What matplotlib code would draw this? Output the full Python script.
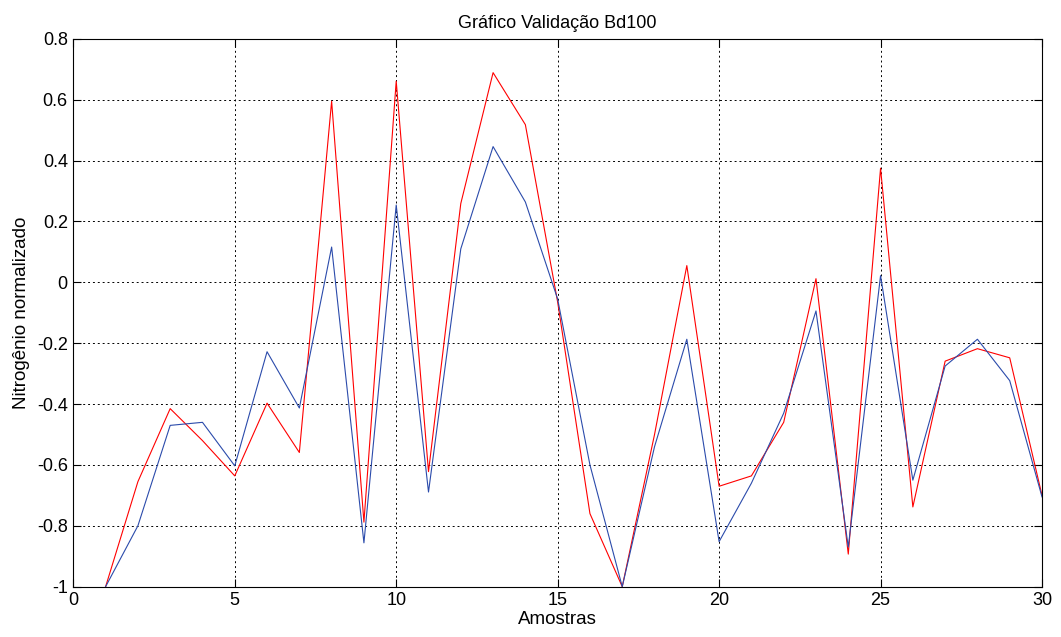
import numpy as np
import matplotlib
matplotlib.use('Agg')
import matplotlib.pyplot as plt

plt.rcParams['font.family'] = ['Liberation Sans', 'DejaVu Sans']

amostras = np.arange(1, 31)
# curva vermelha (real) e azul (rede)
real = [-1.0, -0.655, -0.415, -0.52, -0.636, -0.397, -0.559, 0.595, -0.788, 0.661,
        -0.622, 0.259, 0.689, 0.518, -0.065, -0.76, -1.0, -0.50, 0.055, -0.67,
        -0.636, -0.46, 0.012, -0.893, 0.375, -0.738, -0.259, -0.218, -0.248, -0.70]
rede = [-1.0, -0.80, -0.47, -0.46, -0.603, -0.228, -0.413, 0.116, -0.856, 0.254,
        -0.689, 0.110, 0.446, 0.264, -0.055, -0.60, -1.0, -0.54, -0.187, -0.852,
        -0.66, -0.43, -0.094, -0.87, 0.022, -0.65, -0.275, -0.187, -0.323, -0.705]

fig = plt.figure(figsize=(10.61, 6.37), dpi=100)
ax = fig.add_axes([0.0691, 0.079, 0.913, 0.86])

ax.plot(amostras, real, color='#ff0000', lw=0.8)
ax.plot(amostras, rede, color='#2b4bab', lw=0.8)

ax.set_xlim(0, 30)
ax.set_ylim(-1, 0.8)
ax.set_xticks(np.arange(0, 31, 5))
ax.set_yticks(np.arange(-1, 0.81, 0.2))
ax.set_yticklabels(['-1', '-0.8', '-0.6', '-0.4', '-0.2', '0', '0.2', '0.4', '0.6', '0.8'])
ax.grid(True, color='black', ls=(0, (2, 3)), lw=0.7)
ax.tick_params(direction='in', top=True, right=True, labelsize=13, length=6, pad=4)
for s in ax.spines.values():
    s.set_linewidth(0.8)

ax.set_title('Gráfico Validação Bd100', fontsize=13, pad=8)
ax.set_xlabel('Amostras', fontsize=13.5, labelpad=1)
ax.set_ylabel('Nitrogênio normalizado', fontsize=13.5, labelpad=5)

fig.savefig('out.png', dpi=100)
